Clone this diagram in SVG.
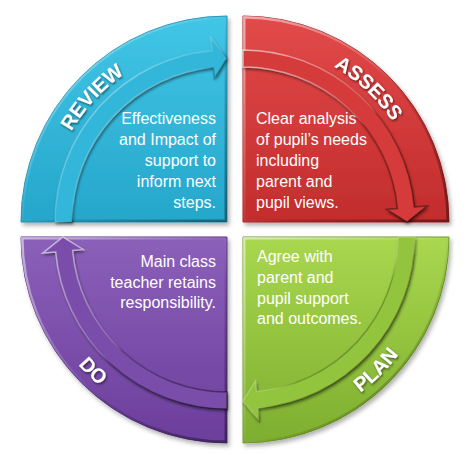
<svg xmlns="http://www.w3.org/2000/svg" width="470" height="453" viewBox="0 0 470 453">
<defs>
<linearGradient id="gReview" x1="0" y1="0" x2="0" y2="1">
<stop offset="0" stop-color="#41c6e6"/><stop offset="1" stop-color="#25a6cb"/>
</linearGradient>
<linearGradient id="gAssess" x1="0" y1="0" x2="0" y2="1">
<stop offset="0" stop-color="#e34a4a"/><stop offset="1" stop-color="#c22c2c"/>
</linearGradient>
<linearGradient id="gPlan" x1="0" y1="0" x2="0" y2="1">
<stop offset="0" stop-color="#a9d74f"/><stop offset="1" stop-color="#7eae2f"/>
</linearGradient>
<linearGradient id="gDo" x1="0" y1="0" x2="0" y2="1">
<stop offset="0" stop-color="#8b60b9"/><stop offset="1" stop-color="#6c3e9c"/>
</linearGradient>
<linearGradient id="gBevel" x1="0" y1="0" x2="1" y2="1">
<stop offset="0" stop-color="#ffffff" stop-opacity="0.55"/>
<stop offset="0.45" stop-color="#ffffff" stop-opacity="0.1"/>
<stop offset="0.6" stop-color="#000000" stop-opacity="0.1"/>
<stop offset="1" stop-color="#000000" stop-opacity="0.4"/>
</linearGradient>
<linearGradient id="gArrowEdge" x1="0" y1="0" x2="1" y2="1">
<stop offset="0" stop-color="#ffffff" stop-opacity="0.6"/>
<stop offset="0.5" stop-color="#ffffff" stop-opacity="0.15"/>
<stop offset="0.55" stop-color="#000000" stop-opacity="0.2"/>
<stop offset="1" stop-color="#000000" stop-opacity="0.45"/>
</linearGradient>
<filter id="shadow" x="-10%" y="-10%" width="120%" height="120%">
<feDropShadow dx="2" dy="3" stdDeviation="2" flood-color="#000" flood-opacity="0.3"/>
</filter>
<filter id="emboss" x="-10%" y="-10%" width="120%" height="120%">
<feDropShadow dx="1" dy="2" stdDeviation="1.5" flood-color="#000" flood-opacity="0.3"/>
</filter>
<filter id="txtShadow" x="-20%" y="-20%" width="140%" height="140%">
<feDropShadow dx="1" dy="1.5" stdDeviation="1" flood-color="#000" flood-opacity="0.55"/>
</filter>
<path id="sReview" d="M 227 222 L 21 222 A 206 206 0 0 1 227 16 Z"/>
<path id="sAssess" d="M 243 222 L 243 16 A 206 206 0 0 1 449 222 Z"/>
<path id="sPlan" d="M 243 237 L 449 237 A 206 206 0 0 1 243 443 Z"/>
<path id="sDo" d="M 227 237 L 227 443 A 206 206 0 0 1 21 237 Z"/>
<clipPath id="cReview"><use href="#sReview"/></clipPath>
<clipPath id="cAssess"><use href="#sAssess"/></clipPath>
<clipPath id="cPlan"><use href="#sPlan"/></clipPath>
<clipPath id="cDo"><use href="#sDo"/></clipPath>
<path id="pReview" d="M 47 222 A 180 180 0 0 1 227 42"/>
<path id="pAssess" d="M 243 42 A 180 180 0 0 1 423 222"/>
<path id="pPlan" d="M 243 432 A 195 195 0 0 0 438 237"/>
<path id="pDo" d="M 31 237 A 196 196 0 0 0 227 433"/>
</defs>
<style>
.sector { filter: url(#shadow); stroke-width: 1; }
.bevel { fill: none; stroke: url(#gBevel); stroke-width: 5; }
.arrow { filter: url(#emboss); }
.edge { fill: none; stroke: url(#gArrowEdge); stroke-width: 1.5; }
.label { font-family: "Liberation Sans", Arial, sans-serif; font-weight: bold; font-size: 20px; fill: #ffffff; filter: url(#txtShadow); }
.body { font-family: "Liberation Sans", Arial, sans-serif; font-size: 16px; fill: #ffffff; }
.r { text-anchor: end; }
</style>

<g id="review">
<use href="#sReview" class="sector" fill="url(#gReview)" stroke="#1f90b3"/>
<use href="#sReview" class="bevel" clip-path="url(#cReview)"/>
<text class="label"><textPath href="#pReview" startOffset="47.5%" text-anchor="middle">REVIEW</textPath></text>
<text class="body r"><tspan x="216" y="124">Effectiveness</tspan><tspan x="216" y="145">and Impact of</tspan><tspan x="216" y="166">support to</tspan><tspan x="216" y="187">inform next</tspan><tspan x="216" y="208">steps.</tspan></text>
</g>

<g id="assess">
<use href="#sAssess" class="sector" fill="url(#gAssess)" stroke="#a82424"/>
<use href="#sAssess" class="bevel" clip-path="url(#cAssess)"/>
<text class="label"><textPath href="#pAssess" startOffset="48%" text-anchor="middle">ASSESS</textPath></text>
<text class="body"><tspan x="256" y="124">Clear analysis</tspan><tspan x="256" y="145">of pupil’s needs</tspan><tspan x="256" y="166">including</tspan><tspan x="256" y="187">parent and</tspan><tspan x="256" y="208">pupil views.</tspan></text>
</g>

<g id="plan">
<use href="#sPlan" class="sector" fill="url(#gPlan)" stroke="#6f9a28"/>
<use href="#sPlan" class="bevel" clip-path="url(#cPlan)"/>
<text class="label"><textPath href="#pPlan" startOffset="50%" text-anchor="middle">PLAN</textPath></text>
<text class="body"><tspan x="257" y="262">Agree with</tspan><tspan x="257" y="283">parent and</tspan><tspan x="257" y="304">pupil support</tspan><tspan x="257" y="324">and outcomes.</tspan></text>
</g>

<g id="do">
<use href="#sDo" class="sector" fill="url(#gDo)" stroke="#5c3388"/>
<use href="#sDo" class="bevel" clip-path="url(#cDo)"/>
<text class="label"><textPath href="#pDo" startOffset="50%" text-anchor="middle">DO</textPath></text>
<text class="body r"><tspan x="216" y="267">Main class</tspan><tspan x="216" y="288">teacher retains</tspan><tspan x="216" y="308">responsibility.</tspan></text>
</g>

<g id="connectors">
<path id="aReview" class="arrow" d="M 72 222 L 55 222 A 172 172 0 0 1 212 50.7 L 210.9 37.7 L 227 58 L 214.4 78.5 L 213.5 67.6 A 155 155 0 0 0 72 222 Z" fill="#33b6da"/>
<use href="#aReview" class="edge"/>
<path id="aAssess" class="arrow" d="M 243 67 L 243 50 A 172 172 0 0 1 414.3 207 L 427.3 205.9 L 407 222 L 386.5 209.4 L 397.4 208.5 A 155 155 0 0 0 243 67 Z" fill="#d63a3a"/>
<use href="#aAssess" class="edge"/>
<path id="aPlan" class="arrow" d="M 398 237 L 415 237 A 172 172 0 0 1 258 408.3 L 259.1 421.3 L 243 401 L 255.6 380.5 L 256.5 391.4 A 155 155 0 0 0 398 237 Z" fill="#93c43d"/>
<use href="#aPlan" class="edge"/>
<path id="aDo" class="arrow" d="M 227 392 L 227 409 A 172 172 0 0 1 55.7 252 L 42.7 253.1 L 63 237 L 83.5 249.6 L 72.6 250.5 A 155 155 0 0 0 227 392 Z" fill="#7a4eaa"/>
<use href="#aDo" class="edge"/>
</g>
</svg>
